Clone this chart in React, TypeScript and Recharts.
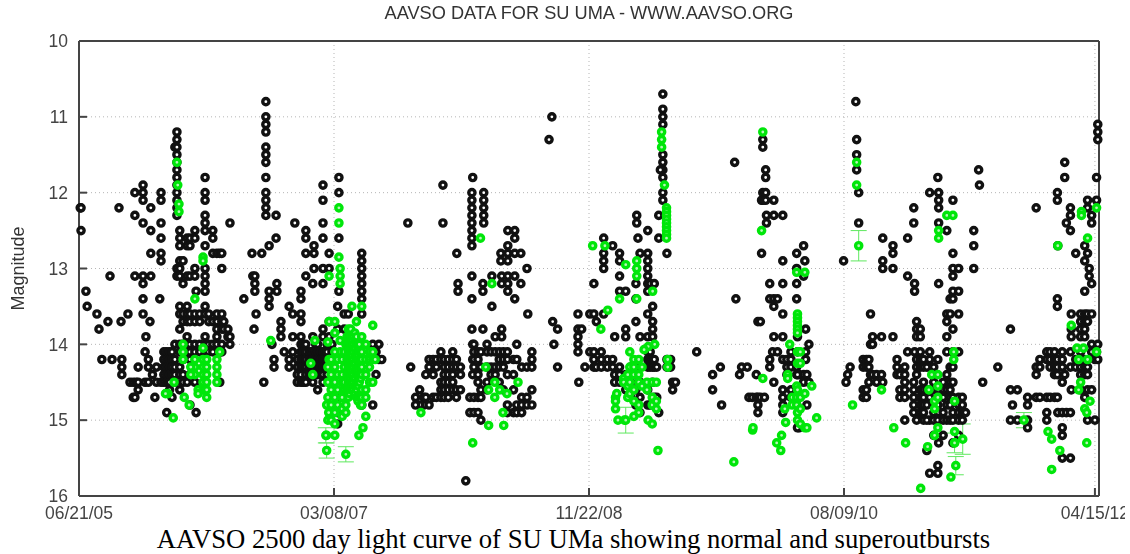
import { ScatterChart, Scatter, XAxis, YAxis, CartesianGrid, ErrorBar } from 'recharts'

type Column = [number, number[]]

// x is days since 06/21/05, each row is one day column with its magnitudes
const xTicks = [0, 625, 1250, 1875, 2490]
const xTickLabels = ['06/21/05', '03/08/07', '11/22/08', '08/09/10', '04/15/12']
const yTicks = [10, 11, 12, 13, 14, 15, 16]

const blackSeason1: Column[] = [
  [3, [12.2]], [5, [12.2, 12.5]], [17, [13.3]], [20, [13.5]], [44, [13.6]], [49, [13.8]], [56, [14.2]],
  [71, [13.7]], [76, [13.1]], [81, [14.2]], [98, [12.2]], [103, [13.7]], [105, [14.2, 14.3, 14.4]],
  [120, [13.6]], [125, [14.5]], [133, [14.5, 14.7]], [137, [12, 12.3, 13.1, 14.7]], [140, [14.5]],
  [145, [14.3, 14.5, 14.6]], [157, [11.9, 12, 12.1, 12.4, 13.1, 13.2, 13.4, 13.6]], [162, [14.1, 14.5]],
  [164, [13.9]], [170, [14.2, 14.3, 14.5]], [174, [13.7]], [176, [12.2, 12.5, 12.8, 13.1]], [180, [14.4]],
  [186, [14.7]], [190, [14.3, 14.5]], [198, [13.4]], [201, [12, 12.1, 12.4, 12.6, 12.8, 12.9, 14.5]],
  [208, [14.1, 14.2, 14.3, 14.4, 14.5]], [215, [14.1, 14.2, 14.3, 14.4, 14.5, 14.9]],
  [222, [14.1, 14.2, 14.3, 14.4, 14.5, 14.6]], [228, [14.1, 14.2, 14.3, 14.4, 14.7]],
  [235, [11.4, 14, 14.2, 14.3, 14.4, 14.5]],
  [240, [11.2, 11.3, 11.4, 11.5, 11.6, 11.7, 11.8, 11.9, 12, 12.1, 12.2, 12.3, 13, 13.1]],
  [247, [12.5, 12.6, 12.7, 12.9, 13, 13.1, 13.5, 13.6, 13.8, 14, 14.1, 14.3, 14.4, 14.6]],
  [255, [12.9, 13.2, 13.6, 13.7, 14, 14.2, 14.4, 14.5]], [265, [12.6, 12.7, 13.1, 13.5, 13.6, 13.7, 13.9, 14, 14.1, 14.5]],
  [272, [12.6, 12.7, 13.1, 13.6, 13.7, 14, 14.1, 14.2, 14.4, 14.8]], [284, [12.5, 12.6, 13, 13.1, 13.6, 13.7, 14, 14.1, 14.5]],
  [287, [14.9, 13.3]], [296, [13.6, 13.7, 14, 14.1, 14.6]], [309, [11.8, 12, 12.1, 12.3, 12.4, 12.5, 12.7, 13, 13.1, 13.2, 13.3, 13.5, 13.6, 13.9, 14, 14.1]],
  [318, [13.6, 13.7, 14, 14.1]], [328, [12.5, 12.6, 12.8, 13.7, 14, 14.1]], [338, [12.8, 13.6, 13.7, 13.8, 13.9, 14]],
  [345, [14.1, 14.5, 12.8]], [350, [12.8, 13, 13.6, 13.7, 13.8, 14, 14.1]], [355, [13.7, 13.8]],
  [365, [13.8, 13.9]], [370, [12.4, 13.9, 14]],
]

const blackSeason2: Column[] = [
  [404, [13.4]], [424, [12.8]], [426, [13.1]], [431, [13.1, 13.2, 13.3]], [434, [13.6]], [429, [13.8]], [448, [12.8]],
  [453, [14.5]], [458, [10.8, 11, 11.1, 11.2, 11.4, 11.5, 11.6, 11.8, 12, 12.1, 12.2, 12.3]], [466, [12.7, 13.3, 13.4, 13.5]],
  [473, [14]], [478, [14.2, 14.3]], [483, [12.3, 12.6]], [485, [13.2, 13.3]], [495, [13.7, 13.8, 13.9]], [503, [14.1]],
  [515, [13.5, 14.2, 14.3]], [524, [13.6, 13.9, 14.1]], [529, [12.4]], [535, [14.2, 14.3, 14.4, 14.5]],
  [544, [13.3, 13.4, 13.6, 13.7, 13.9, 14, 14.1, 14.2, 14.3, 14.4, 14.5]], [550, [14, 14.1, 14.2, 14.3, 14.5]], [556, [12.5, 12.6, 12.8, 13.1, 14, 14.1, 14.2, 14.3, 14.4, 14.5]],
  [564, [14.1, 14.2, 14.3, 14.4]], [570, [14.1, 14.2, 14.3, 14.4]], [573, [13.2, 13.9, 14.1, 14.2, 14.3, 14.4, 14.5]], [576, [12.7, 12.8, 13]],
  [580, [14, 14.1, 14.2, 14.3]], [585, [14, 14.1, 14.2, 14.3, 14.4, 14.6]], [592, [14.1, 14.2, 14.3, 14.4]], [598, [11.9, 12.1, 12.4, 12.6, 13, 13.2, 13.8, 13.9, 14.1, 14.2, 14.3, 14.4, 14.5]],
  [604, [14.1, 14.2, 14.3]], [608, [14, 14.1, 14.2, 14.3, 14.4]], [613, [12.8, 13, 13.7, 13.9, 14.5]], [620, [14, 14.1, 14.3, 14.4, 14.5]],
  [634, [13.5, 13.8, 14.9, 15.05]], [637, [11.8, 12, 12.6, 13.3, 14.7]], [650, [13.6, 13.8, 14.7]], [660, [13.6]],
  [693, [12.8, 12.9, 13, 13.1, 13.2, 13.3, 13.4, 13.6, 14.8]], [720, [14, 14.8]], [728, [14.1, 14.4]], [735, [14, 14.2]], [742, [14.2]],
]

const blackSeason3: Column[] = [
  [806, [12.4]], [813, [14.3]], [892, [11.9, 12.4]], [926, [12.8]], [929, [13.2, 13.3]], [948, [15.8]],
  [965, [11.8, 14, 14.2, 14.4]], [963, [12, 12.1, 12.2, 12.3, 12.4, 12.5, 12.6, 12.7, 13.1, 13.4, 13.8]], [992, [12, 12.1, 12.2, 12.3, 12.4]],
  [990, [13.2, 13.3, 13.8]], [1012, [13.1, 13.5]], [1034, [12.8, 12.9]], [1036, [13.1, 13.2, 13.8, 13.9]],
  [1051, [12.5, 12.7, 12.8, 12.9, 13.1, 13.2, 13.3]], [1068, [12.5, 12.6, 12.8, 13.1, 13.4]], [1083, [12.8, 13.2]], [1098, [13]],
  [1100, [13.6]], [845, [14.7, 14.8]], [835, [14.6, 14.8]], [825, [14.7, 14.8]], [850, [14.4, 14.7]], [858, [14.2, 14.3, 14.8]],
  [868, [14.2, 14.4, 14.7]], [876, [14.2, 14.3, 14.7]], [887, [14.1, 14.2, 14.5, 14.6, 14.7]], [895, [14.2, 14.3, 14.4, 14.5, 14.6, 14.7]],
  [905, [14.2, 14.3, 14.4, 14.5, 14.6, 14.7]], [916, [14.1, 14.2, 14.3, 14.4, 14.5, 14.6]], [925, [14.2, 14.3, 14.6, 14.7]],
  [935, [14.3, 14.4, 14.6]], [958, [14.7, 14.9]], [968, [14, 14.1, 14.2, 14.3, 14.7, 14.9]], [978, [14.1, 14.2, 14.4, 14.5, 14.7, 14.9]],
  [985, [14.1, 14.3, 14.6, 14.7, 15]], [1000, [14, 14.1, 14.3, 14.5, 14.6]], [1010, [14.1, 14.3, 14.4]], [1020, [13.9, 14.1, 14.3, 14.4]],
  [1030, [14.1, 14.2, 14.3, 14.5]], [1040, [14.1, 14.2, 14.3, 14.6]], [1050, [14.1, 14.2, 14.4, 14.8, 14.9]], [1065, [14.2, 14.4, 14.6, 14.9]],
  [1073, [14, 14.2, 14.8, 14.9]], [1085, [14.3, 14.7, 14.8, 14.9]], [1098, [14.3, 14.7, 14.8]], [1110, [14.1, 14.2, 14.3, 14.6, 14.8]],
]

const blackSeason4: Column[] = [
  [1152, [11.3]], [1159, [11]], [1161, [13.7]], [1164, [14]], [1173, [13.8, 14.3]], [1223, [13.6, 13.8, 13.9, 14, 14.1]], [1225, [14.5]],
  [1232, [13.8]], [1240, [14.3]], [1252, [13.6, 14.1]], [1262, [13.2, 13.6, 14.1, 14.2, 14.3]], [1268, [13.7, 14.3]], [1280, [14.1, 14.2, 14.3]],
  [1286, [12.6, 12.8, 12.9, 13, 13.6]], [1295, [14.2, 14.3]], [1308, [12.7, 14.2, 14.3]], [1313, [13.9, 14.4, 14.5]], [1325, [12.8, 12.9, 13.1, 13.3, 14.3, 14.4, 14.5]],
  [1340, [13.3, 13.8, 13.9, 14.4, 14.6]], [1352, [14.3, 14.5, 14.7]], [1365, [13.2, 13.4, 13.7, 14.3, 14.4, 14.6, 14.8]], [1367, [12.3, 12.4]],
  [1370, [12.6]], [1375, [12.8, 13.9, 14.3, 14.5, 14.7, 14.9]], [1394, [12.5, 12.8, 12.9, 13, 13.1, 13.2, 13.3, 13.6, 13.9, 14.1, 14.2, 14.3, 14.6, 14.8]],
  [1400, [13.2, 14.1, 14.2, 14.3, 14.8]], [1406, [13.5, 13.7, 13.8, 13.9, 14.2, 14.3, 14.5]], [1410, [13.2, 14.2, 14.3, 14.7]], [1421, [12.3, 12.6, 14.9]], [1416, [14.3, 14.7]],
  [1431, [10.7, 10.9, 11, 11.1, 11.5, 11.6, 11.7, 11.8, 12, 12.1]], [1425, [11.7]], [1441, [12.8, 14.2, 14.3]], [1450, [14.2, 14.3]], [1455, [14.5, 14.6]], [1462, [14.5]], [1514, [14.1]],
]

const blackSeason5: Column[] = [
  [1553, [14.4, 14.6]], [1572, [14.3]], [1575, [14.8]], [1607, [11.6]], [1610, [13.4]], [1619, [14.4]], [1624, [14.3]], [1638, [14.3]], [1642, [14.7]],
  [1650, [14.7]], [1660, [14.4, 14.7]], [1664, [13.7, 14.7, 14.8, 14.9]], [1670, [13.7, 14.7]], [1673, [12.1, 12.8]], [1676, [11.3, 11.4, 12, 12.1]], [1680, [14.7]],
  [1683, [11.7, 11.8, 12, 12.1]], [1685, [12.3, 12.4]], [1693, [13.4, 13.2, 14.2, 14.3]], [1703, [12.1, 12.3, 13.5, 13.4, 13.9, 14.5]], [1700, [14.1]], [1712, [13.4, 14.1]],
  [1725, [12.3, 12.9, 13.2, 13.6, 13.9, 14.2, 14.6, 14.7, 14.8, 14.9]], [1735, [14.2, 14.3, 14.4]], [1745, [14.1, 14.2, 14.3, 14.6, 14.7]], [1759, [12.8, 13, 13.2, 13.4, 14.3, 14.4, 14.8]], [1765, [14.4, 15.1]],
  [1776, [12.7, 13.1, 14.4, 14.5]], [1779, [12.9]], [1781, [13.8, 14.1, 14.2]], [1784, [14.4, 14.8]], [1789, [14, 14.5]], [1761, [13.9, 14.1, 14.4, 15.1]],
]

const blackSeason6: Column[] = [
  [1874, [12.9]], [1880, [14.5]], [1884, [14.4]], [1890, [14.3]], [1904, [10.8]], [1906, [11.3, 11.5, 11.7]], [1911, [12, 12.4]], [1922, [14.2, 14.3, 14.6, 14.7]], [1930, [14.2, 14.3, 14.6, 14.7]],
  [1936, [14.2, 14.3, 14.5]], [1940, [13.6, 14, 14.4]], [1945, [13.9, 14, 14.4]], [1955, [14.4, 14.5]], [1967, [13.9, 14.4]], [1970, [12.6, 12.9, 13, 14.5]], [1995, [12.7, 12.8, 13, 13.9]],
  [2005, [14.2, 14.3, 14.4]], [2012, [14.4, 14.6, 14.7]], [2024, [14.3, 14.4, 14.5, 14.6, 14.7, 15]], [2031, [12.6, 13.1, 14.1]], [2046, [12.2, 12.4, 14.5, 14.6, 14.7, 14.8, 14.9]], [2048, [13.2, 13.3, 14.1]],
  [2053, [13.7, 13.8, 13.9, 14.2, 14.3, 14.4, 15]], [2062, [13.8, 13.9, 14.1, 14.2, 14.3, 14.6, 14.7, 14.8, 14.9]], [2070, [14.2, 14.3, 14.5, 14.6, 14.7, 14.8, 14.9, 15]], [2085, [12, 14.1, 14.2, 14.3, 14.6, 14.7, 15, 15.7]],
  [2078, [14.3, 14.6, 14.8, 15, 15.4]], [2095, [14.3, 14.5, 14.6, 14.8, 14.9, 15, 15.2]], [2105, [11.8, 14.2, 14.6, 14.8, 15, 15.6, 15.7]], [2107, [12, 12.1, 12.2, 12.4, 13.2, 14.6, 14.9, 15.3]], [2118, [14.5, 14.6, 14.7, 14.9, 15, 15.2]],
  [2127, [12.5, 13.6, 13.7, 13.9, 14.1, 14.4, 14.6, 14.8, 15]], [2135, [13.4, 13.6, 14.3, 14.5, 14.6, 14.7, 14.8, 15]], [2142, [12.1, 12.8, 13, 13.1, 13.3, 13.4, 13.8, 14.1, 14.3, 14.5, 14.7, 14.9, 15, 15.3]],
  [2156, [13, 13.3, 13.6, 14.1, 14.7, 14.8, 14.9, 15, 15.2]], [2165, [14.7, 14.8, 14.9, 15]], [2173, [14.9]], [2193, [12.5, 12.7, 13]], [2205, [11.7]], [2207, [11.9]], [2215, [14.5]],
]

const blackSeason7: Column[] = [
  [2252, [14.3]], [2283, [13.8, 14.6, 15]], [2288, [14.8]], [2300, [14.6, 15]], [2325, [14.7, 14.8, 15, 15.1]], [2346, [12.2, 14.3, 14.4, 14.7]], [2355, [14.2, 14.3, 14.7]], [2372, [14.1, 14.2, 14.7, 14.9, 15]],
  [2380, [14.1, 14.2, 14.3, 14.7]], [2391, [14.1, 14.2, 14.3, 14.4, 14.7]], [2398, [12, 12.1, 13.4, 13.5, 14.2, 14.3, 14.4, 14.7]], [2399, [12.7, 14.9]], [2410, [14.1, 14.2, 14.3, 14.5, 14.9, 15.1, 15.2, 15.5]],
  [2416, [11.6, 11.8, 14.4]], [2420, [12.4, 14.9]], [2430, [12.2, 12.3, 12.5, 14.1, 14.3, 14.9, 15.5]], [2432, [13.6, 13.8, 13.9, 14.6]], [2443, [12.8, 14.2, 14.3]], [2455, [13.6, 13.7, 13.8, 13.9, 14.1, 14.3, 14.4, 14.6]],
  [2465, [12.7, 12.9, 13.3, 13.6, 13.7, 13.8, 13.9, 14.2, 14.3, 14.4, 14.7]], [2472, [12.1, 12.2, 12.8, 13.6, 13.7, 14.3, 14.4, 14.6, 15]], [2476, [13, 13.1]], [2482, [12.3, 12.4, 13.2, 13.6, 14, 14.1, 14.6]],
  [2490, [14.2, 15]], [2494, [11.8, 12.1, 14.1]], [2497, [11.1, 11.2, 11.3, 14, 14.2]],
]

const greenSeason1: Column[] = [
  [231, [14.97]], [218, [14.65]], [212, [14.65]], [233, [14.5]], [258, [14.7]], [270, [14.8]], [284, [13.4, 14.2, 14.3, 14.4]], [240, [11.6]], [242, [11.9]], [245, [12.15, 12.25]],
  [255, [14, 14.1, 14.2]], [304, [12.85, 12.9, 14.05, 14.2, 14.3, 14.4, 14.5, 14.6]], [274, [14.3, 14.4]], [313, [14.2, 14.3, 14.4, 14.5, 14.6, 14.7]], [292, [14.6, 14.65]], [338, [14.2, 14.3, 14.4, 14.5]], [345, [14.1]],
]

const greenSeason2: Column[] = [
  [470, [13.95]], [568, [14.25]], [573, [14.4]], [578, [13.95]], [610, [13.97, 14.3, 14.5, 14.7, 15]], [613, [13.1, 13.7, 14.2]], [637, [12.2, 12.4, 12.85]], [640, [13, 13.1, 13.2, 13.95, 14.1]], [607, [15.2, 14.8]], [612, [14.9]],
  [618, [14.2, 14.4, 14.6, 14.8, 15]], [627, [13.7, 13.85, 14.1, 14.3, 14.5, 14.7, 14.9, 15.05, 15.2]], [634, [14.2, 14.4, 14.6, 14.8]], [645, [14.2, 14.4, 14.5, 14.7, 14.85, 14.95]], [654, [14, 14.1, 14.3, 14.5, 14.8, 14.9]],
  [650, [14.1, 14.3, 14.5, 14.6]], [657, [13.9, 14, 14.2, 14.4, 14.6]], [660, [13.8, 13.9, 14, 14.1, 14.2, 14.3, 14.4, 14.5, 14.6, 14.7]], [663, [13.85, 14.05, 14.25, 14.45, 14.65]], [666, [13.8, 13.9, 14, 14.1, 14.2, 14.3, 14.4, 14.5, 14.6]], [669, [13.5, 13.95, 14.15, 14.35, 14.55]], [672, [13.9, 14, 14.1, 14.2, 14.3, 14.4, 14.5, 14.6]],
  [676, [13.85, 14.05, 14.25, 14.45, 14.65]], [680, [13.7, 13.9, 14, 14.1, 14.2, 14.3, 14.4, 14.5, 14.6, 14.7]], [684, [14.15, 14.35, 14.55, 14.75]], [687, [14, 14.1, 14.2, 14.3, 14.4, 14.5, 14.7]], [690, [14.25, 14.45, 14.65, 14.8]], [693, [13.5, 13.9, 14.1, 14.2, 14.3, 14.4, 14.6, 14.7, 14.8]], [686, [15.2]], [696, [15.1]],
  [703, [14.95, 14, 14.2, 14.4, 14.6, 14.7]], [712, [14.1, 14.2, 14.3, 14.5]], [720, [13.75, 14.1, 14.2, 14.5]], [726, [14.2]],
]

const greenSeason3: Column[] = [
  [838, [14.9]], [1004, [15.07, 14.6]], [997, [14.3]], [1076, [14.5]], [1019, [14.5, 14.7]], [1031, [14.6]], [1049, [14.65]], [1039, [14.9]], [1041, [15.07]], [965, [15.3]], [984, [12.6]], [1012, [13.2]],
]

const greenSeason4: Column[] = [
  [1259, [12.7]], [1279, [13.8]], [1289, [12.7]], [1296, [13.55]], [1340, [12.95]], [1325, [13.4]], [1367, [12.9, 13, 13.1, 13.4]], [1406, [13.3]], [1350, [14.1]], [1428, [11.2, 11.3, 11.4]], [1435, [11.9]],
  [1440, [12.2, 12.25, 12.3, 12.35, 12.4, 12.45, 12.5, 12.55, 12.6]], [1443, [14.2, 14.3]], [1411, [14]], [1395, [14.03]], [1385, [14.07]], [1321, [15]], [1337, [15]], [1395, [15]], [1405, [15.05]], [1419, [15.4]], [1315, [14.7, 14.75, 14.85]],
  [1318, [14.65]], [1335, [14.45, 14.5]], [1345, [14.4, 14.55, 14.7]], [1350, [14.3, 14.5, 14.65]], [1360, [14.2, 14.3, 14.4, 14.6, 14.75, 14.95]], [1372, [14.2, 14.4, 14.5, 14.8, 14.9]], [1380, [14.3, 14.55]], [1392, [14.5, 14.6]], [1405, [14.5, 14.7, 14.8]], [1415, [14.5, 14.75, 14.85]],
]

const greenSeason5: Column[] = [
  [1605, [15.55]], [1651, [15.13]], [1652, [15.1]], [1673, [12.5]], [1676, [14.45, 11.2]], [1710, [15.3]], [1720, [15.4]], [1722, [15.2]], [1730, [14.85]], [1732, [15.03]], [1737, [14.4, 14.45]], [1742, [14]], [1748, [14.7, 14.8]],
  [1759, [13.05, 14.55, 14.7, 14.8]], [1761, [13.6, 13.65, 13.7, 13.75, 13.8, 13.85, 14.1, 14.25, 14.6, 14.9, 15]], [1768, [14.1, 14.25, 14.7, 14.85, 15.05]], [1779, [13.05, 14.65, 15.1]], [1784, [15.1]], [1796, [14.55]], [1808, [14.97]],
]

const greenSeason6: Column[] = [
  [1896, [14.8]], [1906, [11.6, 11.9]], [1967, [14.6]], [1997, [15.1]], [2026, [15.3]], [2063, [15.9]], [2080, [15.35]], [2083, [14.6]], [2090, [14.4]], [2097, [14.75, 14.85, 15.2]], [2105, [15.1, 14.4, 14.55, 14.7]], [2107, [12.5, 12.6]],
  [2127, [12.3]], [2142, [12.3]], [2137, [15.75]], [2144, [14.1, 14.2]], [2146, [14.75, 15.15, 15.3]],
]

const greenSeason7: Column[] = [
  [2375, [15.15]], [2384, [15.25, 15.65]], [2399, [12.7]], [2404, [15.4]], [2432, [13.75]], [2446, [14.05]], [2450, [14.2, 14.6]], [2455, [14.5]], [2457, [12.25, 12.3]], [2462, [14.05]], [2465, [14.85]], [2470, [14.9, 15.3]],
  [2472, [12.6, 14.2]], [2478, [14.75]], [2494, [12.2, 14.1]],
]

// [day, magnitude, error]
const greenErrorRows: [number, number, number][] = [
  [607, 15.4, 0.1], [605, 15.2, 0.1], [654, 15.45, 0.1], [1340, 15, 0.17], [1911, 12.7, 0.2], [2149, 15.6, 0.12], [2166, 15.25, 0.2], [2146, 15.3, 0.13], [2316, 15, 0.1],
]

const toPoints = (columns: Column[]) => columns.flatMap(([day, mags]) => mags.map((mag) => ({ day, mag })))

const blackPoints = toPoints([...blackSeason1, ...blackSeason2, ...blackSeason3, ...blackSeason4, ...blackSeason5, ...blackSeason6, ...blackSeason7])
const greenPoints = toPoints([...greenSeason1, ...greenSeason2, ...greenSeason3, ...greenSeason4, ...greenSeason5, ...greenSeason6, ...greenSeason7])
const greenErrorPoints = greenErrorRows.map(([day, mag, err]) => ({ day, mag, err }))

const axisColor = '#444'
const tickFont = { fontSize: 17.5, fill: '#444', fontFamily: 'Liberation Sans' }

const BlackDot = (props: any) => <circle cx={props.cx} cy={props.cy} r={3.1} fill="#fff" stroke="#111" strokeWidth={3.4} />
const GreenDot = (props: any) => <circle cx={props.cx} cy={props.cy} r={3.1} fill="#b8f5b8" stroke="#00e60a" strokeWidth={3.4} />

export default function App() {
  return (
    <div style={{ position: 'absolute', left: 0, top: 0, width: 1130, height: 554, background: '#fff', overflow: 'hidden' }}>
      <div style={{ filter: 'blur(0.45px)' }}>
        <ScatterChart width={1125} height={554} margin={{ top: 40, right: 25, bottom: 0, left: 0 }}>
          <CartesianGrid strokeDasharray="1 3" stroke="#b5b5b5" />
          <XAxis
            type="number"
            dataKey="day"
            domain={[0, 2500]}
            ticks={xTicks}
            interval={0}
            height={58}
            stroke={axisColor}
            strokeWidth={2}
            tickSize={-8}
            tickMargin={19}
            tick={tickFont}
            tickFormatter={(value) => xTickLabels[xTicks.indexOf(value)]}
          />
          <XAxis xAxisId="top" orientation="top" type="number" domain={[0, 2500]} ticks={xTicks} interval={0} height={1} stroke={axisColor} strokeWidth={2} tickSize={-8} tickFormatter={() => ''} />
          <YAxis
            type="number"
            dataKey="mag"
            reversed
            domain={[10, 16]}
            ticks={yTicks}
            interval={0}
            width={79}
            stroke={axisColor}
            strokeWidth={2}
            tickSize={-8}
            tickMargin={19}
            tick={tickFont}
            label={{ value: 'Magnitude', angle: -90, position: 'insideLeft', offset: 18, style: { fontSize: 18, fill: '#333', fontFamily: 'Liberation Sans', textAnchor: 'middle' } }}
          />
          <YAxis yAxisId="right" orientation="right" type="number" reversed domain={[10, 16]} ticks={yTicks} interval={0} width={1} stroke={axisColor} strokeWidth={2} tickSize={-8} tickFormatter={() => ''} />
          <Scatter data={blackPoints} shape={BlackDot} isAnimationActive={false} />
          <Scatter data={greenPoints} shape={GreenDot} isAnimationActive={false} />
          <Scatter data={greenErrorPoints} shape={GreenDot} isAnimationActive={false}>
            <ErrorBar dataKey="err" direction="y" width={8} stroke="#5fe85f" strokeWidth={1} />
          </Scatter>
        </ScatterChart>
      </div>
      <div style={{ position: 'absolute', left: 0, width: 1178, top: 3, textAlign: 'center', fontFamily: 'Liberation Sans', fontSize: 18.2, color: '#333', filter: 'blur(0.3px)', whiteSpace: 'nowrap' }}>
        AAVSO DATA FOR SU UMA - WWW.AAVSO.ORG
      </div>
      <div style={{ position: 'absolute', left: 0, width: 1147, top: 524, textAlign: 'center', fontFamily: 'Liberation Serif', fontSize: 26.7, color: '#000', whiteSpace: 'nowrap' }}>
        AAVSO 2500 day light curve of SU UMa showing normal and superoutbursts
      </div>
    </div>
  )
}
